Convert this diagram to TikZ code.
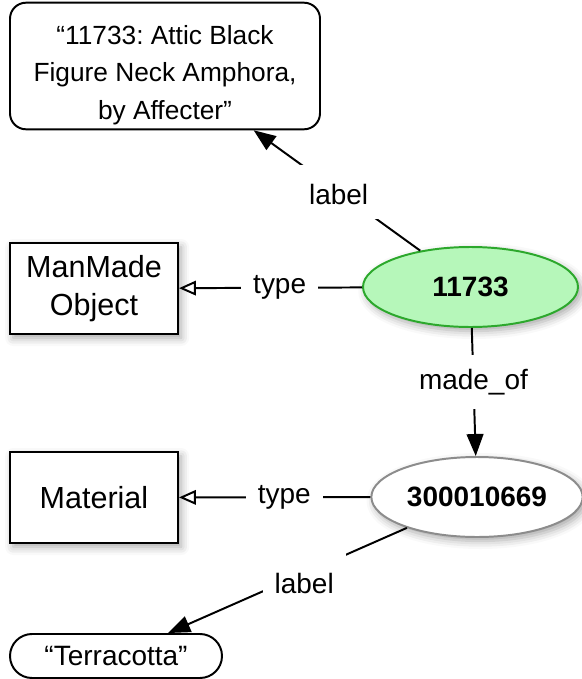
\documentclass[tikz,border=0pt]{standalone}
\usepackage{fontspec}
\setmainfont{Liberation Sans}
\usetikzlibrary{arrows.meta,shapes.geometric,shadows.blur}
\frenchspacing

\definecolor{knotengruen}{RGB}{182,247,186}
\definecolor{randgruen}{RGB}{44,168,44}
\definecolor{randgrau}{RGB}{140,140,140}

\begin{document}
\begin{tikzpicture}[line width=1.4pt,
	every node/.style={font=\fontsize{19.9}{27}\selectfont, align=center},
	schatten/.style={blur shadow={shadow xshift=0.08cm, shadow yshift=-0.1cm, shadow blur radius=0.2cm, shadow opacity=35}},
	classbox/.style={draw, rectangle, fill=white, schatten, minimum width=4.2cm, minimum height=2.275cm, font=\fontsize{21.7}{27}\selectfont},
	literal/.style={draw, rectangle, fill=white, rounded corners=0.4cm},
	resource/.style={draw, ellipse, fill=white, schatten, minimum height=2cm, font=\bfseries\fontsize{19.9}{27}\selectfont},
	edgelabel/.style={fill=white, inner xsep=0.3cm, inner ysep=0.35cm},
	pfeil/.style={-{Triangle[length=0.55cm, width=0.42cm]}},
	typpfeil/.style={-{Triangle[open, fill=white, length=0.42cm, width=0.36cm]}}]
	\useasboundingbox (0,0) rectangle (14.55,-16.975);

	\node (Amphora) [literal, minimum width=7.75cm, minimum height=3.05cm, font=\fontsize{18.7}{26.5}\selectfont] at (4.125,-1.65) {\rule{0pt}{26.5pt}“11733: Attic Black\\Figure Neck Amphora,\\by Affecter”};
	\node (ManMadeObject) [classbox] at (2.35,-7.2125) {ManMade\\Object};
	\node (Obj11733) [resource, draw=randgruen, fill=knotengruen, minimum width=5.375cm] at (11.7625,-7.175) {11733};
	\node (Material) [classbox] at (2.35,-12.4375) {Material};
	\node (Mat300010669) [resource, draw=randgrau, minimum width=5.25cm] at (11.925,-12.425) {300010669};
	\node (Terracotta) [literal, rounded corners=0.55cm, minimum width=5.3cm, minimum height=1.1cm] at (2.9,-16.4) {“Terracotta”};

	\draw[pfeil] (Obj11733) -- node[edgelabel, pos=0.49, text height=0.65cm] {label} (Amphora);
	\draw[typpfeil] (Obj11733) -- node[edgelabel, pos=0.45] {type} (ManMadeObject);
	\draw[pfeil] (Obj11733) -- node[edgelabel, pos=0.42] {made\_of} (Mat300010669);
	\draw[typpfeil] (Mat300010669) -- node[edgelabel, pos=0.45] {type} (Material);
	\draw[pfeil] (Mat300010669) -- node[edgelabel, pos=0.43, text height=1cm, text depth=0pt] {label} (Terracotta);
\end{tikzpicture}
\end{document}
